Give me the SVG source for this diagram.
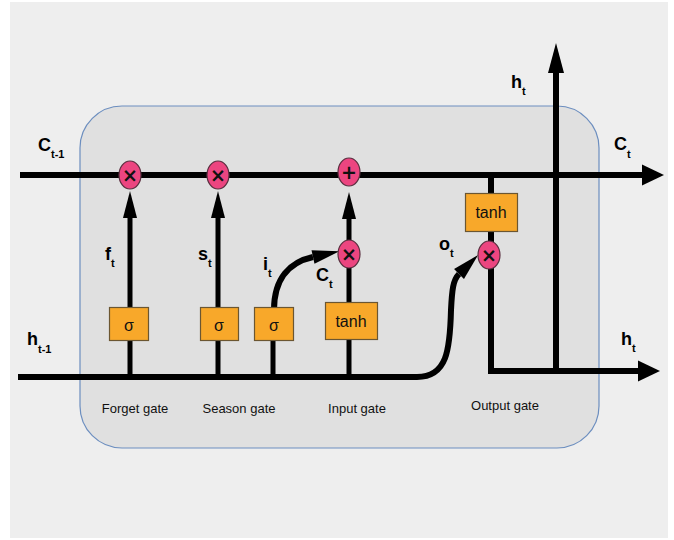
<svg xmlns="http://www.w3.org/2000/svg" width="674" height="540" viewBox="0 0 674 540">
  <style>
    .wire{fill:none;stroke:#000;stroke-width:6;stroke-linejoin:miter}
    .thin{fill:none;stroke:#000;stroke-width:5}
    .box{fill:#f8a82a;stroke:#6b5632;stroke-width:1.2}
    .op{fill:#ec4580;stroke:#5a3040;stroke-width:1.2}
    .lbl{font-family:"Liberation Sans",Arial,sans-serif;font-weight:bold;font-size:18px;fill:#000}
    .sub{font-size:11px}
    .gt{font-family:"Liberation Sans",Arial,sans-serif;font-size:13px;fill:#111;text-anchor:middle}
    .bt{font-family:"Liberation Sans",Arial,sans-serif;font-size:16px;fill:#111;text-anchor:middle}
    .sym{font-family:"DejaVu Sans",sans-serif;font-weight:bold;font-size:19px;fill:#111;text-anchor:middle}
  </style>
  <defs>
    <marker id="ah" markerUnits="userSpaceOnUse" markerWidth="40" markerHeight="40" refX="0" refY="0" orient="auto" overflow="visible">
      <path d="M0,-7 L27,0 L0,7 z" fill="#000"/>
    </marker>
    <marker id="ahBig" markerUnits="userSpaceOnUse" markerWidth="40" markerHeight="40" refX="0" refY="0" orient="auto" overflow="visible">
      <path d="M0,-10.5 L22,0 L0,10.5 z" fill="#000"/>
    </marker>
    <marker id="ahTall" markerUnits="userSpaceOnUse" markerWidth="40" markerHeight="40" refX="0" refY="0" orient="auto" overflow="visible">
      <path d="M0,-8 L30,0 L0,8 z" fill="#000"/>
    </marker>
  </defs>
  <rect x="10" y="2" width="658" height="536" fill="#eeeeee"/>
  <rect id="cell" x="80" y="106" width="519" height="342" rx="42" ry="42" fill="#e0e0e0" stroke="#6c8ebf" stroke-width="1.2"/>

  <g id="connectors">
    <path class="wire" d="M20,175 H642" stroke-width="7" marker-end="url(#ahBig)"/>
    <path class="wire" d="M18,377 H417 C447,377 450,350 451,310 C452,290 453,280 459,274" stroke-width="7" marker-end="url(#ah)"/>
    <path class="thin" d="M130,377 V218" marker-end="url(#ah)"/>
    <path class="thin" d="M218,377 V218" marker-end="url(#ah)"/>
    <path class="thin" d="M273,377 V310"/>
    <path class="wire" d="M274,310 C274,278 290,262 313,257" marker-end="url(#ah)"/>
    <path class="thin" d="M349,377 V219" marker-end="url(#ah)"/>
    <path class="wire" d="M491,175 V371 H638" marker-end="url(#ahBig)"/>
    <path class="wire" d="M556,374 V73" marker-end="url(#ahTall)"/>
  </g>

  <g id="forget-gate">
    <rect class="box" x="109.5" y="307.5" width="39" height="33"/>
    <text class="bt" x="129" y="331" font-size="18">σ</text>
    <ellipse class="op" cx="130" cy="175" rx="11" ry="14"/>
    <text class="sym" x="130" y="182">×</text>
    <text class="gt" x="135" y="413">Forget gate</text>
  </g>
  <g id="season-gate">
    <rect class="box" x="200.5" y="307.5" width="38" height="33"/>
    <text class="bt" x="219" y="331" font-size="18">σ</text>
    <ellipse class="op" cx="218" cy="175" rx="11" ry="14"/>
    <text class="sym" x="218" y="182">×</text>
    <text class="gt" x="239" y="413">Season gate</text>
  </g>
  <g id="input-gate">
    <rect class="box" x="254.5" y="307.5" width="39" height="33"/>
    <text class="bt" x="274" y="331" font-size="18">σ</text>
    <rect class="box" x="325.5" y="302.5" width="52" height="37"/>
    <text class="bt" x="351" y="327">tanh</text>
    <ellipse class="op" cx="349" cy="254" rx="11" ry="14"/>
    <text class="sym" x="349" y="261">×</text>
    <ellipse class="op" cx="349" cy="172" rx="11" ry="14"/>
    <text class="sym" x="349" y="179" font-size="17">+</text>
    <text class="gt" x="357" y="413">Input gate</text>
  </g>
  <g id="output-gate">
    <rect class="box" x="465.5" y="193.5" width="52" height="38"/>
    <text class="bt" x="491" y="218">tanh</text>
    <ellipse class="op" cx="489" cy="255" rx="11" ry="14"/>
    <text class="sym" x="489" y="262">×</text>
    <text class="gt" x="505" y="410">Output gate</text>
  </g>

  <g id="labels">
    <text class="lbl" x="38" y="151">C<tspan class="sub" dy="7">t-1</tspan></text>
    <text class="lbl" x="27" y="345">h<tspan class="sub" dy="8">t-1</tspan></text>
    <text class="lbl" x="105" y="260">f<tspan class="sub" dy="7">t</tspan></text>
    <text class="lbl" x="198" y="260">s<tspan class="sub" dy="7">t</tspan></text>
    <text class="lbl" x="263" y="270">i<tspan class="sub" dy="7">t</tspan></text>
    <text class="lbl" x="316" y="281">C<tspan class="sub" dy="7">t</tspan></text>
    <text class="lbl" x="439" y="250">o<tspan class="sub" dy="7">t</tspan></text>
    <text class="lbl" x="511" y="88">h<tspan class="sub" dy="7">t</tspan></text>
    <text class="lbl" x="614" y="150">C<tspan class="sub" dy="8">t</tspan></text>
    <text class="lbl" x="621" y="345">h<tspan class="sub" dy="7">t</tspan></text>
  </g>
</svg>
